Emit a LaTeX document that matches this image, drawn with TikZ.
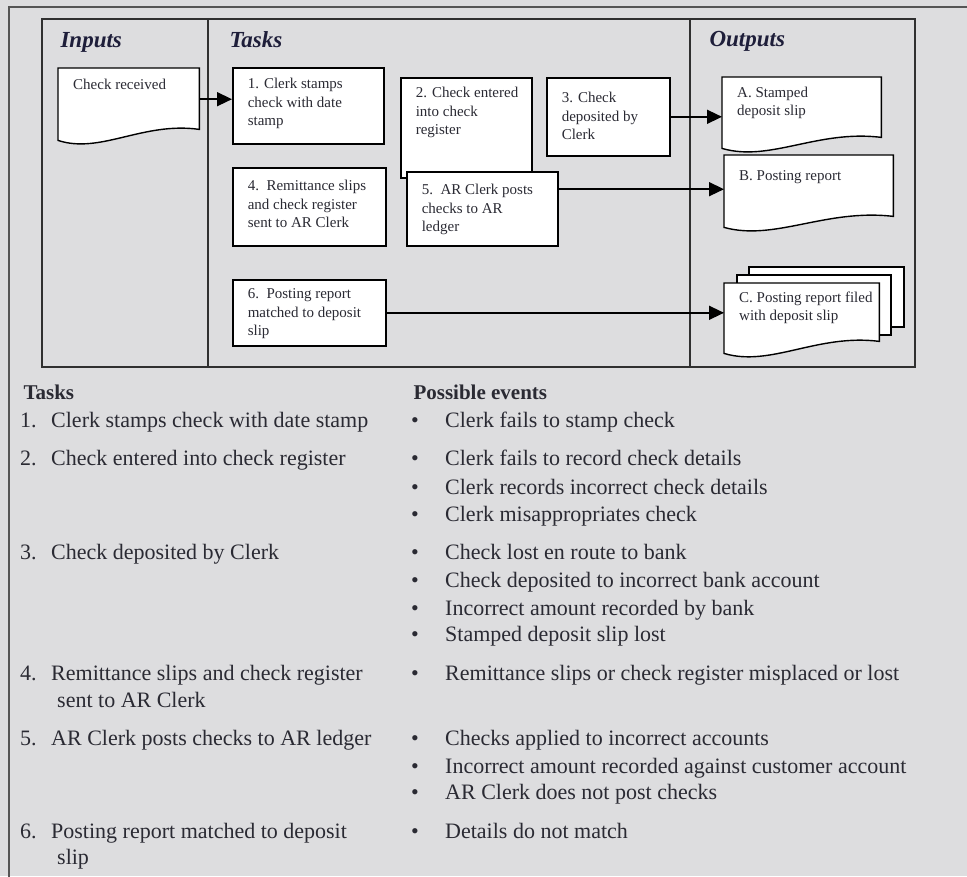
\documentclass[tikz,border=0pt]{standalone}
\usepackage{fontspec}
\setmainfont{Liberation Serif}
\usetikzlibrary{arrows.meta,calc}
\pgfdeclarelayer{background}
\pgfdeclarelayer{paper}
\pgfsetlayers{background,paper,main}

\definecolor{bggray}{HTML}{DDDDDF}
\definecolor{ink}{HTML}{2A2A33}
\definecolor{frameline}{HTML}{303030}
\definecolor{outerline}{HTML}{555555}
\definecolor{heading}{HTML}{1E1E3A}

% text cell: width, height, gap above first line, lines
\newcommand\cell[4]{\parbox[t][#2pt][t]{#1pt}{\fontsize{15}{18.5}\selectfont
  \vspace*{#3pt}\hspace*{15pt}\begin{tabular}[t]{@{}l@{}}#4\end{tabular}}}

% document symbol with a wavy bottom edge; #2 = rise of the right end
\newcommand\docoutline[2]{%
  \path let \p1=(#1.south west), \p2=(#1.north east), \n1={\x2-\x1} in
    [docline] (#1.north west) -- (#1.north east) -- (\x2,\y1+#2pt)
    .. controls (\x1+0.6*\n1,\y1+#2pt+8pt) and (\x1+0.3*\n1,\y1-14pt) .. (\x1,\y1)
    -- cycle;}

\begin{document}
\begin{tikzpicture}[x=1pt,y=-1pt,
  taskbox/.style={draw=black, line width=1.6pt, fill=white, inner sep=0pt,
    anchor=north west, text=ink},
  docnode/.style={inner sep=0pt, anchor=north west, text=ink},
  docline/.style={draw=black, line width=1.4pt, fill=white},
  flow/.style={line width=1.5pt, -{Triangle[length=15pt,width=14pt]}},
  colhead/.style={anchor=base west, text=heading,
    font=\fontsize{23}{27}\selectfont\bfseries\itshape},
  listhead/.style={anchor=base west, text=ink,
    font=\fontsize{21}{25}\selectfont\bfseries},
  listtext/.style={anchor=base west, text=ink, inner sep=0pt,
    font=\fontsize{22}{26}\selectfont}]

\useasboundingbox (0,0) rectangle (967,876);

% page, outer frame and the three columns
\begin{pgfonlayer}{background}
  \fill[bggray] (0,0) rectangle (967,876);
  \begin{scope}
    \clip (0,0) rectangle (967,876);
    \draw[outerline, line width=2pt] (9,7) rectangle (1000,900);
  \end{scope}
  \draw[frameline, line width=2pt] (42,19) rectangle (915,367);
  \draw[frameline, line width=2pt] (208,19) -- (208,367);
  \draw[frameline, line width=2pt] (690,19) -- (690,367);
\end{pgfonlayer}

% column headings
\node[colhead] (hin) at (57,47) {Inputs};
\node[colhead] (htask) at (226,47) {Tasks};
\node[colhead] (hout) at (706,46) {Outputs};

% task boxes
\node[taskbox] (t1) at (232,67) {\cell{151}{76}{8}{1. Clerk stamps\\check with date\\stamp}};
\node[taskbox] (t2) at (400,77) {\cell{131}{100}{7}{2. Check entered\\into check\\register}};
\node[taskbox] (t3) at (546,77) {\cell{123}{78}{12}{3. Check\\deposited by\\Clerk}};
\node[taskbox] (t4) at (232,167) {\cell{153}{78}{10}{4.\ \ Remittance slips\\and check register\\sent to AR Clerk}};
\node[taskbox] (t5) at (406,171) {\cell{151}{74}{10}{5.\ \ AR Clerk posts\\checks to AR\\ledger}};
\node[taskbox] (t6) at (232,279) {\cell{153}{66}{6}{6.\ \ Posting report\\matched to deposit\\slip}};

% documents
\node[docnode] (din) at (58,68) {\cell{141}{72}{8}{Check received}};
\node[docnode] (dA) at (722,77) {\cell{159}{71}{7}{A. Stamped\\deposit slip}};
\node[docnode] (dB) at (724,155) {\cell{169}{72}{12}{B. Posting report}};
\node[docnode] (dC) at (724,283) {\cell{155}{70}{6}{C. Posting report filed\\with deposit slip}};

\begin{pgfonlayer}{paper}
  \docoutline{din}{11}
  \docoutline{dA}{11}
  \docoutline{dB}{11}
  % filed copies stacked behind C
  \draw[docline] ([shift={(25pt,16pt)}]dC.north west) rectangle ++(155pt,-60pt);
  \draw[docline] ([shift={(13pt,8pt)}]dC.north west) rectangle ++(154pt,-60pt);
  \docoutline{dC}{12}
\end{pgfonlayer}

% flows
\coordinate (inA) at ([yshift=5pt]din.east);
\coordinate (inB) at ([yshift=2pt]dB.west);
\draw[flow] (inA) -- (inA -| t1.west);
\draw[flow] (t3.east) -- (t3.east -| dA.west);
\draw[flow] (t5.east |- inB) -- (inB);
\draw[flow] (t6.east) -- (t6.east -| dC.west);

% task list and possible events
\node[listhead] (lh1) at (20,399) {Tasks};
\node[listhead] (lh2) at (410,399) {Possible events};

\node[listtext] (n1) at (20,427) {1.};
\node[listtext] (x1) at (51,427) {Clerk stamps check with date stamp};
\node[listtext] (n2) at (20,465) {2.};
\node[listtext] (x2) at (51,465) {Check entered into check register};
\node[listtext] (n3) at (20,559) {3.};
\node[listtext] (x3) at (51,559) {Check deposited by Clerk};
\node[listtext] (n4) at (20,680) {4.};
\node[listtext] (x4) at (51,680) {Remittance slips and check register};
\node[listtext] (x4b) at (57,707) {sent to AR Clerk};
\node[listtext] (n5) at (20,745) {5.};
\node[listtext] (x5) at (51,745) {AR Clerk posts checks to AR ledger};
\node[listtext] (n6) at (20,838) {6.};
\node[listtext] (x6) at (51,838) {Posting report matched to deposit};
\node[listtext] (x6b) at (57,864) {slip};

\foreach \yy/\txt [count=\k] in {
  427/Clerk fails to stamp check,
  465/Clerk fails to record check details,
  494/Clerk records incorrect check details,
  521/Clerk misappropriates check,
  559/Check lost en route to bank,
  587/Check deposited to incorrect bank account,
  615/Incorrect amount recorded by bank,
  641/Stamped deposit slip lost,
  680/Remittance slips or check register misplaced or lost,
  745/Checks applied to incorrect accounts,
  773/Incorrect amount recorded against customer account,
  799/AR Clerk does not post checks,
  838/Details do not match} {
  \node[listtext] (b\k) at (411,\yy) {\textbullet};
  \node[listtext] (e\k) at (445,\yy) {\txt};
}
\end{tikzpicture}
\end{document}
